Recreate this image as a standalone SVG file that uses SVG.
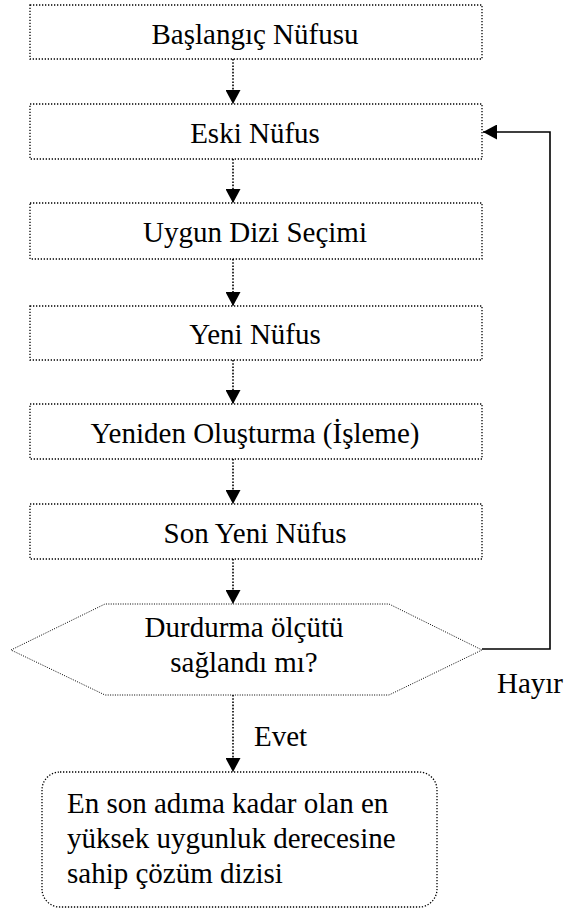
<svg xmlns="http://www.w3.org/2000/svg" width="566" height="909" viewBox="0 0 566 909">
<defs>
<style>
.box{fill:#fff;stroke:#000;stroke-width:1.3;stroke-dasharray:1.3 1.7}
.hex{fill:#fff;stroke:#000;stroke-width:1;stroke-dasharray:1 1.4}
.dl{stroke:#000;stroke-width:1.6;stroke-dasharray:1.6 1.6;fill:none}
.sl{stroke:#000;stroke-width:1.6;fill:none}
.c{text-anchor:middle}
text{font-family:Liberation Serif, serif;font-size:29px;fill:#000}
</style>
<marker id="ah" viewBox="0 0 14 15" refX="14" refY="7.5" markerWidth="14" markerHeight="15" markerUnits="userSpaceOnUse" orient="auto">
<path d="M0,0 L14,7.5 L0,15 Z" fill="#000"/>
</marker>
</defs>
<g id="connectors">
<line class="dl" x1="233" y1="59" x2="233" y2="104" marker-end="url(#ah)"/>
<line class="dl" x1="233" y1="159" x2="233" y2="203" marker-end="url(#ah)"/>
<line class="dl" x1="233" y1="259" x2="233" y2="306" marker-end="url(#ah)"/>
<line class="dl" x1="233" y1="360" x2="233" y2="404" marker-end="url(#ah)"/>
<line class="dl" x1="233" y1="459" x2="233" y2="504" marker-end="url(#ah)"/>
<line class="dl" x1="233" y1="559" x2="233" y2="604" marker-end="url(#ah)"/>
<line class="dl" x1="233" y1="695" x2="233" y2="772" marker-end="url(#ah)"/>
<polyline class="sl" points="482,649 550,649 550,132 483,132" marker-end="url(#ah)"/>
<text x="254" y="746">Evet</text>
<text x="497" y="693">Hayır</text>
</g>
<g id="n1"><rect class="box" x="30" y="5" width="452" height="54"/><text class="c" x="255" y="44">Başlangıç Nüfusu</text></g>
<g id="n2"><rect class="box" x="30" y="104" width="452" height="55"/><text class="c" x="255" y="143">Eski Nüfus</text></g>
<g id="n3"><rect class="box" x="30" y="203" width="452" height="56"/><text class="c" x="255" y="242">Uygun Dizi Seçimi</text></g>
<g id="n4"><rect class="box" x="30" y="306" width="452" height="54"/><text class="c" x="255" y="344">Yeni Nüfus</text></g>
<g id="n5"><rect class="box" x="30" y="404" width="452" height="55"/><text class="c" x="255" y="443">Yeniden Oluşturma (İşleme)</text></g>
<g id="n6"><rect class="box" x="30" y="504" width="452" height="55"/><text class="c" x="255" y="543">Son Yeni Nüfus</text></g>
<g id="n7"><polygon class="hex" points="11,650 105,604 389,604 482,650 389,695 105,695"/><text class="c" x="244" y="637">Durdurma ölçütü</text><text class="c" x="244" y="672">sağlandı mı?</text></g>
<g id="n8"><rect class="box" x="42" y="772" width="395" height="135" rx="18" ry="18"/><text x="67" y="813">En son adıma kadar olan en</text><text x="67" y="848">yüksek uygunluk derecesine</text><text x="67" y="883">sahip çözüm dizisi</text></g>
</svg>
